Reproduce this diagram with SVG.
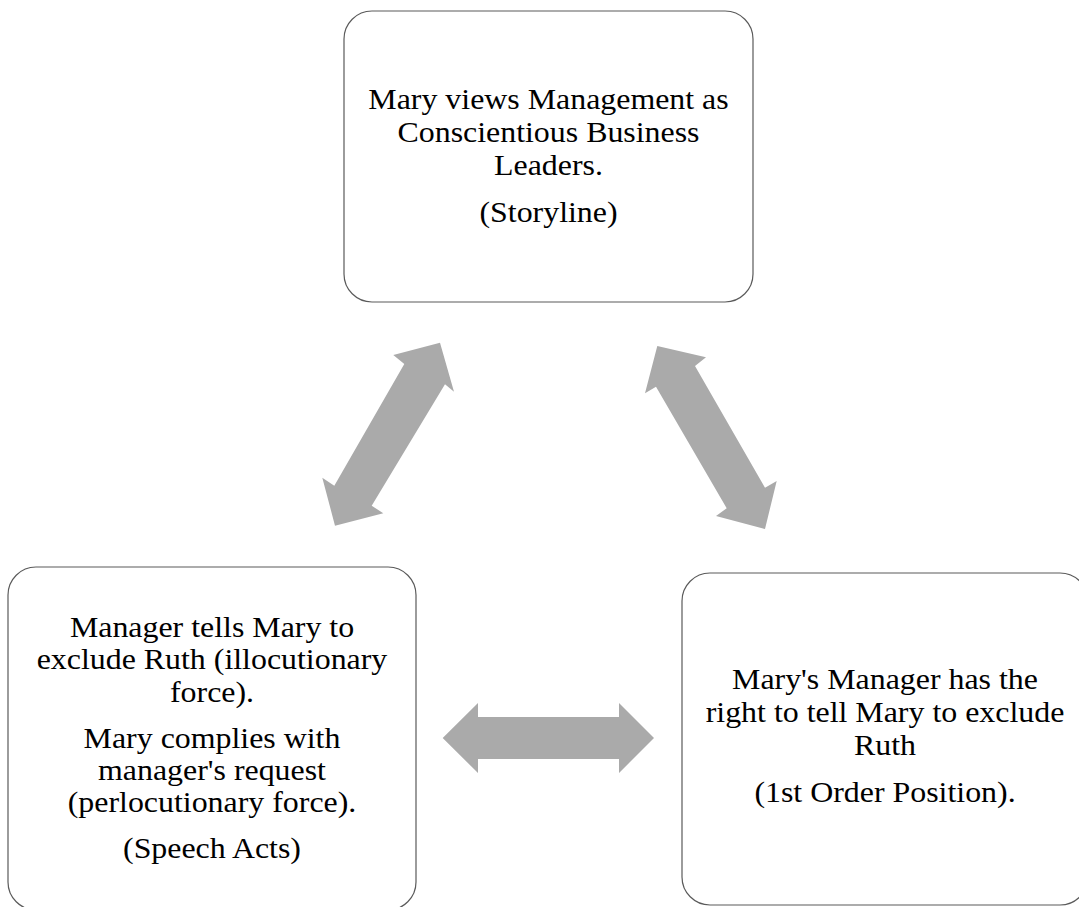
<svg xmlns="http://www.w3.org/2000/svg" width="1079" height="907" viewBox="0 0 1079 907">
<style>
.box{fill:#ffffff;stroke:#5a5a5a;stroke-width:1.2}
.arr{fill:#aaaaaa;stroke:none}
.t{font-family:"Liberation Serif","Times New Roman",serif;font-size:29px;fill:#000000;text-anchor:middle}
</style>
<rect x="0" y="0" width="1079" height="907" fill="#ffffff"/>
<g id="connectors">
<polygon class="arr" points="440,342.7 454,391.7 445,384.3 371.7,505.7 383.3,513.3 335,525.7 322.3,477.7 334.3,485.7 404.3,364 393.3,355"/>
<polygon class="arr" points="657.3,346 706,357.3 695,366 765,487.7 776.7,481 765,529 716,516 726.7,508.3 656,386.7 645,393.3"/>
<polygon class="arr" points="442.7,738 478,703 478,717 619,717 619,703 654,738 619,773 619,759 478,759 478,773"/>
</g>
<g id="node-storyline">
<rect class="box" x="344" y="11" width="409" height="291" rx="28" ry="28"/>
<g transform="translate(548.5 0) scale(1.1 1)">
<text class="t" x="0" y="109">Mary views Management as</text>
<text class="t" x="0" y="142">Conscientious Business</text>
<text class="t" x="0" y="175">Leaders.</text>
<text class="t" x="0" y="222">(Storyline)</text>
</g>
</g>
<g id="node-speech-acts">
<rect class="box" x="8" y="567" width="408" height="343" rx="28" ry="28"/>
<g transform="translate(212 0) scale(1.1 1)">
<text class="t" x="0" y="637">Manager tells Mary to</text>
<text class="t" x="0" y="669">exclude Ruth (illocutionary</text>
<text class="t" x="0" y="702">force).</text>
<text class="t" x="0" y="748">Mary complies with</text>
<text class="t" x="0" y="780">manager's request</text>
<text class="t" x="0" y="812">(perlocutionary force).</text>
<text class="t" x="0" y="858">(Speech Acts)</text>
</g>
</g>
<g id="node-first-order">
<rect class="box" x="682" y="573" width="406" height="332" rx="28" ry="28"/>
<g transform="translate(885 0) scale(1.1 1)">
<text class="t" x="0" y="689">Mary's Manager has the</text>
<text class="t" x="0" y="722">right to tell Mary to exclude</text>
<text class="t" x="0" y="755">Ruth</text>
<text class="t" x="0" y="802">(1st Order Position).</text>
</g>
</g>
</svg>
